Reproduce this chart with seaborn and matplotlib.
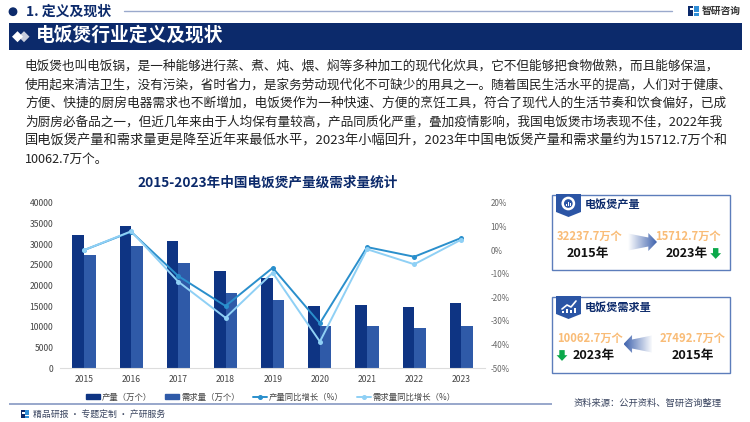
import numpy as np
import pandas as pd
import seaborn as sns
import matplotlib.pyplot as plt
from matplotlib.lines import Line2D
from matplotlib.patches import Patch, Polygon, Rectangle, Circle, RegularPolygon
from matplotlib.colors import LinearSegmentedColormap

sns.set_theme(style="white")
plt.rcParams['font.family'] = ['Noto Sans CJK SC', 'DejaVu Sans']

# data
years = ['2015', '2016', '2017', '2018', '2019', '2020', '2021', '2022', '2023']
production = [32237.7, 34400, 30700, 23400, 21700, 15000, 15200, 14800, 15712.7]
demand = [27492.7, 29600, 25500, 18200, 16500, 10200, 10200, 9600, 10062.7]
production_growth = [0, 7.8, -11, -23.7, -7.5, -31, 1.3, -2.8, 5.2]
demand_growth = [0, 8, -13.4, -28.7, -9.6, -38.8, 0.4, -6, 4.5]
left_ticks = [0, 5000, 10000, 15000, 20000, 25000, 30000, 35000, 40000]
right_ticks = [-50, -40, -30, -20, -10, 0, 10, 20]
body_lines = [
    '电饭煲也叫电饭锅，是一种能够进行蒸、煮、炖、煨、焖等多种加工的现代化炊具，它不但能够把食物做熟，而且能够保温，',
    '使用起来清洁卫生，没有污染，省时省力，是家务劳动现代化不可缺少的用具之一。随着国民生活水平的提高，人们对于健康、',
    '方便、快捷的厨房电器需求也不断增加，电饭煲作为一种快速、方便的烹饪工具，符合了现代人的生活节奏和饮食偏好，已成',
    '为厨房必备品之一，但近几年来由于人均保有量较高，产品同质化严重，叠加疫情影响，我国电饭煲市场表现不佳，2022年我',
    '国电饭煲产量和需求量更是降至近年来最低水平，2023年小幅回升，2023年中国电饭煲产量和需求量约为15712.7万个和',
    '10062.7万个。',
]
body_sizes = [9.12, 9.08, 9.15, 9.12, 9.52, 9.1]

NAVY = '#0C2A6B'
BAR1 = '#0E3483'
BAR2 = '#2F5AA8'
LINE1 = '#2A8FCC'
LINE2 = '#8FD0F5'
ORANGE = '#F9BC77'
GREEN = '#0BA84A'
FRAME = '#5C7DBB'
RULE = '#9AA9CC'

fig = plt.figure(figsize=(7.5, 4.22), dpi=100, facecolor='white')
W, H = 750, 422

# chart
ax = fig.add_axes([60.4 / W, 1 - 368 / H, 424.6 / W, 165 / H])
bars = pd.DataFrame({
    'year': years * 2,
    'value': production + demand,
    'kind': ['产量（万个）'] * 9 + ['需求量（万个）'] * 9,
})
sns.barplot(data=bars, x='year', y='value', hue='kind', palette=[BAR1, BAR2],
            width=0.49, gap=0, legend=False, ax=ax, saturation=1, linewidth=0)
ax.set_xlim(-0.5, 8.5)
ax.set_ylim(0, 40000)
ax.set_yticks(left_ticks)
ax.set_xlabel('')
ax.set_ylabel('')
ax.tick_params(axis='y', length=0, labelsize=6.2, labelcolor='#444444', pad=5)
ax.tick_params(axis='x', length=0, labelsize=6.2, labelcolor='#444444', pad=5)
for side in ['top', 'right', 'left']:
    ax.spines[side].set_visible(False)
ax.spines['bottom'].set_color('#DDDDDD')
ax.spines['bottom'].set_linewidth(0.8)

ax2 = ax.twinx()
sns.lineplot(x=years, y=production_growth, color=LINE1, marker='o', markersize=3.6,
             markeredgewidth=0, linewidth=1.4, ax=ax2)
sns.lineplot(x=years, y=demand_growth, color=LINE2, marker='o', markersize=3.6,
             markeredgewidth=0, linewidth=1.4, ax=ax2)
ax2.set_ylim(-50, 20)
ax2.set_yticks(right_ticks)
ax2.set_yticklabels([f'{t}%' for t in right_ticks])
ax2.tick_params(axis='y', length=0, labelsize=5.8, labelcolor='#666666', pad=4)
ax2.grid(False)
for side in ['top', 'right', 'left', 'bottom']:
    ax2.spines[side].set_visible(False)

handles = [
    Patch(color=BAR1, label='产量（万个）'),
    Patch(color=BAR2, label='需求量（万个）'),
    Line2D([], [], color=LINE1, marker='o', markersize=2.6, linewidth=1.4, label='产量同比增长（%）'),
    Line2D([], [], color=LINE2, marker='o', markersize=2.6, linewidth=1.4, label='需求量同比增长（%）'),
]
fig.legend(handles=handles, ncol=4, frameon=False, fontsize=6, labelcolor='#444444',
           loc='center', bbox_to_anchor=(271 / W, 1 - 397 / H), columnspacing=1.6,
           handlelength=1.65, handleheight=0.6, handletextpad=0.25, borderpad=0)

# page furniture in pixel coordinates
deco = fig.add_axes([0, 0, 1, 1], zorder=5)
deco.set_xlim(0, W)
deco.set_ylim(H, 0)
deco.axis('off')
deco.patch.set_alpha(0)

deco.add_patch(Circle((13, 11.7), 3.7, color=NAVY))
deco.text(26, 12, '1. 定义及现状', fontsize=10, fontweight='bold', color=NAVY, va='center')
deco.plot([124, 672], [10.5, 10.5], color=RULE, lw=1)

deco.add_patch(Rectangle((9, 23), 733, 26.5, color=NAVY, lw=0))
deco.add_patch(RegularPolygon((24, 36.7), 4, radius=5.5, color='#C8CEDD', lw=0))
deco.add_patch(RegularPolygon((17.5, 36.7), 4, radius=5.5, color='white', lw=0))
deco.text(36, 35.5, '电饭煲行业定义及现状', fontsize=13.5, fontweight='bold', color='white', va='center')

for i, line in enumerate(body_lines):
    deco.text(24 if i == 0 else 25, 66 + i * 18.7, line, fontsize=body_sizes[i], color='#222222', va='center')

deco.text(268, 183, '2015-2023年中国电饭煲产量级需求量统计', fontsize=9.8, fontweight='bold',
          color=NAVY, ha='center', va='center')

# bottom strip
deco.add_patch(Rectangle((9, 403), 543, 1.8, color=RULE, lw=0, zorder=6))
deco.text(33, 414.5, '精品研报 · 专题定制 · 产研服务', fontsize=6.4, color='#3A4560', va='center')
deco.text(574, 403, '资料来源：公开资料、智研咨询整理', fontsize=6.7, color='#3A4560', va='center')


def logo(x, y, s):
    deco.add_patch(Rectangle((x, y), s * 0.45, s, color=NAVY, lw=0))
    deco.add_patch(Rectangle((x + s * 0.15, y + s * 0.2), s * 0.3, s * 0.25, color='white', lw=0))
    deco.add_patch(Rectangle((x + s * 0.55, y), s * 0.45, s * 0.6, color='#2F8FD8', lw=0))
    deco.add_patch(Rectangle((x + s * 0.55, y + s * 0.75), s * 0.45, s * 0.25, color='#2F8FD8', lw=0))


logo(688, 5.5, 10.5)
deco.text(702, 10.5, '智研咨询', fontsize=7, fontweight='bold', color='#333333', va='center')
logo(21, 410, 8)

gradient = LinearSegmentedColormap.from_list('arrow', ['#FFFFFF', '#3F63AE'])


def grad_arrow(x0, x1, yc, half):
    # fade from x0 (pale) to x1 (tip)
    d = x1 - x0
    neck = x0 + d * 0.7
    pts = [(x0, yc - half * 0.95), (neck, yc - half * 0.5), (neck, yc - half),
           (x1, yc), (neck, yc + half), (neck, yc + half * 0.5),
           (x0, yc + half * 0.95)]
    values = np.linspace(0, 1, 64).reshape(1, -1)
    left, right = min(x0, x1), max(x0, x1)
    img = deco.imshow(values if d > 0 else values[:, ::-1], cmap=gradient, aspect='auto',
                      extent=[left, right, yc + half, yc - half], zorder=3)
    poly = Polygon(pts, transform=deco.transData, fc='none', ec='none')
    deco.add_patch(poly)
    img.set_clip_path(poly)


def down_arrow(cx, cy):
    deco.add_patch(Polygon([(cx - 2.7, cy - 5.4), (cx + 2.7, cy - 5.4), (cx + 2.7, cy - 0.3), (cx + 5.4, cy - 0.3),
                            (cx, cy + 5.4), (cx - 5.4, cy - 0.3), (cx - 2.7, cy - 0.3)], color=GREEN, lw=0))


def badge(x, y):
    deco.add_patch(Polygon([(x, y), (x + 25, y), (x + 25, y + 18), (x + 12.5, y + 23), (x, y + 18)],
                           color='#2B55A5', lw=0, zorder=4))


# production panel
deco.add_patch(Rectangle((552.3, 195.3), 177.7, 75, fc='white', ec=FRAME, lw=1))
badge(556, 194)
deco.add_patch(Circle((568.3, 203.5), 5.6, fc='none', ec='white', lw=1.8, zorder=5))
for bx, bh in zip([565.8, 567.8, 569.8], [2, 4, 3]):
    deco.add_patch(Rectangle((bx, 206 - bh), 1.3, bh, color='white', lw=0, zorder=5))
deco.text(585, 205.5, '电饭煲产量', fontsize=8, fontweight='bold', color=NAVY, va='center')
deco.text(557, 236, '32237.7万个', fontsize=8.1, fontweight='bold', color=ORANGE, va='center')
deco.text(655, 236, '15712.7万个', fontsize=8.1, fontweight='bold', color=ORANGE, va='center')
deco.text(567, 254, '2015年', fontsize=9.1, fontweight='bold', color='#111111', va='center')
deco.text(666, 254, '2023年', fontsize=9.1, fontweight='bold', color='#111111', va='center')
down_arrow(715.7, 253.5)
grad_arrow(628, 657, 242, 9)

# demand panel
deco.add_patch(Rectangle((552.3, 297.3), 177.7, 75.4, fc='white', ec=FRAME, lw=1))
badge(556, 296)
deco.plot([562, 567, 571, 576], [309, 305, 307, 301], color='white', lw=1.2, zorder=5)
for bx, bh in zip([562, 566, 570, 574], [2, 4, 3, 5]):
    deco.add_patch(Rectangle((bx, 313 - bh), 2, bh, color='white', lw=0, zorder=5))
deco.text(585, 308, '电饭煲需求量', fontsize=8, fontweight='bold', color=NAVY, va='center')
deco.text(557, 338, '10062.7万个', fontsize=8.1, fontweight='bold', color=ORANGE, va='center')
deco.text(660, 338, '27492.7万个', fontsize=8.1, fontweight='bold', color=ORANGE, va='center')
deco.text(572.5, 356, '2023年', fontsize=9.1, fontweight='bold', color='#111111', va='center')
deco.text(671.5, 356, '2015年', fontsize=9.1, fontweight='bold', color='#111111', va='center')
down_arrow(562, 355.5)
grad_arrow(652, 623.5, 344, 9)

deco.set_xlim(0, W)
deco.set_ylim(H, 0)

fig.savefig('out.png', dpi=100, facecolor='white')
